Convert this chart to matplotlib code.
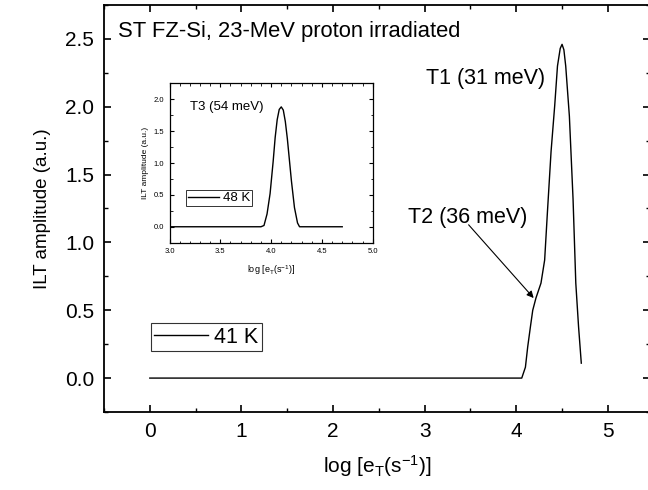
import matplotlib
matplotlib.use('Agg')
import matplotlib.pyplot as plt
import matplotlib.ticker as tck

plt.rcParams['font.family'] = ['Liberation Sans', 'DejaVu Sans']
plt.rcParams['mathtext.default'] = 'regular'

# main spectrum, 41 K
x_41 = [0.0, 1.0, 2.0, 3.0, 4.0, 4.06, 4.10, 4.125, 4.155, 4.18, 4.215, 4.27, 4.31,
        4.34, 4.38, 4.42, 4.45, 4.48, 4.50, 4.52, 4.54, 4.58, 4.62, 4.65, 4.68, 4.71]
y_41 = [0.0, 0.0, 0.0, 0.0, 0.0, 0.0, 0.08, 0.23, 0.38, 0.50, 0.59, 0.70, 0.87,
        1.22, 1.67, 2.01, 2.30, 2.43, 2.46, 2.42, 2.30, 1.93, 1.32, 0.70, 0.38, 0.11]

# inset spectrum, 48 K
x_48 = [3.0, 3.5, 3.90, 3.93, 3.96, 3.99, 4.02, 4.04, 4.06, 4.08, 4.10, 4.12,
        4.14, 4.16, 4.18, 4.20, 4.23, 4.26, 4.28, 4.4, 4.7]
y_48 = [0.0, 0.0, 0.0, 0.02, 0.20, 0.52, 1.02, 1.40, 1.68, 1.84, 1.88, 1.83,
        1.65, 1.38, 1.05, 0.72, 0.30, 0.06, 0.0, 0.0, 0.0]

fig = plt.figure(figsize=(6.48, 4.90), dpi=100)
ax0 = fig.add_axes([104/648, 1 - 412/490, 546/648, 407/490])

ax0.plot(x_41, y_41, color='black', lw=1.0, label='41 K')

ax0.set_xlim(-0.5, 5.46)
ax0.set_ylim(-0.25, 2.75)
ax0.xaxis.set_major_locator(tck.MultipleLocator(1))
ax0.xaxis.set_minor_locator(tck.MultipleLocator(0.5))
ax0.yaxis.set_major_locator(tck.MultipleLocator(0.5))
ax0.yaxis.set_minor_locator(tck.MultipleLocator(0.25))
ax0.yaxis.set_major_formatter(tck.FormatStrFormatter('%.1f'))
ax0.tick_params(which='major', direction='in', length=5, width=1.2,
                labelsize=15, top=True, right=True, pad=7)
ax0.tick_params(which='minor', direction='in', length=3, width=1.0,
                top=True, right=True)
for s in ax0.spines.values():
    s.set_linewidth(1.3)

ax0.set_xlabel('log [e$_T$(s$^{-1}$)]', fontsize=15, labelpad=9)
ax0.set_ylabel('ILT amplitude (a.u.)', fontsize=13.5, labelpad=10)

fig.text(118/648, 1 - 32/490, 'ST FZ-Si, 23-MeV proton irradiated',
         fontsize=15.8, va='center', ha='left')
ax0.text(3.67, 2.21, 'T1 (31 meV)', fontsize=15.5, ha='center', va='center')
ax0.text(3.47, 1.185, 'T2 (36 meV)', fontsize=15.5, ha='center', va='center')
ax0.annotate('', xy=(4.19, 0.59), xytext=(3.48, 1.13),
             arrowprops=dict(arrowstyle='-|>', color='black', lw=0.8,
                             mutation_scale=10, shrinkA=0, shrinkB=0))

leg = ax0.legend(loc='upper left', bbox_to_anchor=(0.086, 0.218), fontsize=15.5,
                 frameon=True, fancybox=False, edgecolor='black',
                 handlelength=2.5, handletextpad=0.3, borderpad=0.15,
                 borderaxespad=0)
leg.get_frame().set_linewidth(0.8)

# ---------- inset ----------
ax1 = fig.add_axes([169.5/648, 1 - 242.7/490, 203.2/648, 159.4/490])
ax1.plot(x_48, y_48, color='black', lw=1.0, label='48 K')
ax1.set_xlim(3.0, 5.0)
ax1.set_ylim(-0.25, 2.25)
ax1.xaxis.set_major_locator(tck.MultipleLocator(0.5))
ax1.xaxis.set_minor_locator(tck.MultipleLocator(0.1))
ax1.yaxis.set_major_locator(tck.MultipleLocator(0.5))
ax1.yaxis.set_minor_locator(tck.MultipleLocator(0.25))
ax1.xaxis.set_major_formatter(tck.FormatStrFormatter('%.1f'))
ax1.yaxis.set_major_formatter(tck.FormatStrFormatter('%.1f'))
ax1.tick_params(which='major', direction='in', length=3, width=0.8,
                labelsize=5.5, top=True, right=True, pad=4)
ax1.tick_params(which='minor', direction='in', length=1.8, width=0.6,
                top=True, right=True)
for s in ax1.spines.values():
    s.set_linewidth(0.9)
ax1.set_xlabel('log [e$_T$(s$^{-1}$)]', fontsize=6.5, labelpad=6)
ax1.set_ylabel('ILT amplitude (a.u.)', fontsize=6, labelpad=3)
ax1.text(3.2, 1.88, 'T3 (54 meV)', fontsize=9.5, va='center', ha='left')
leg1 = ax1.legend(loc='upper left', bbox_to_anchor=(0.08, 0.33), fontsize=9.5,
                  frameon=True, fancybox=False, edgecolor='black',
                  handlelength=2.35, handletextpad=0.3, borderpad=0.15,
                  borderaxespad=0)
leg1.get_frame().set_linewidth(0.7)

fig.savefig('out.png', dpi=100)
